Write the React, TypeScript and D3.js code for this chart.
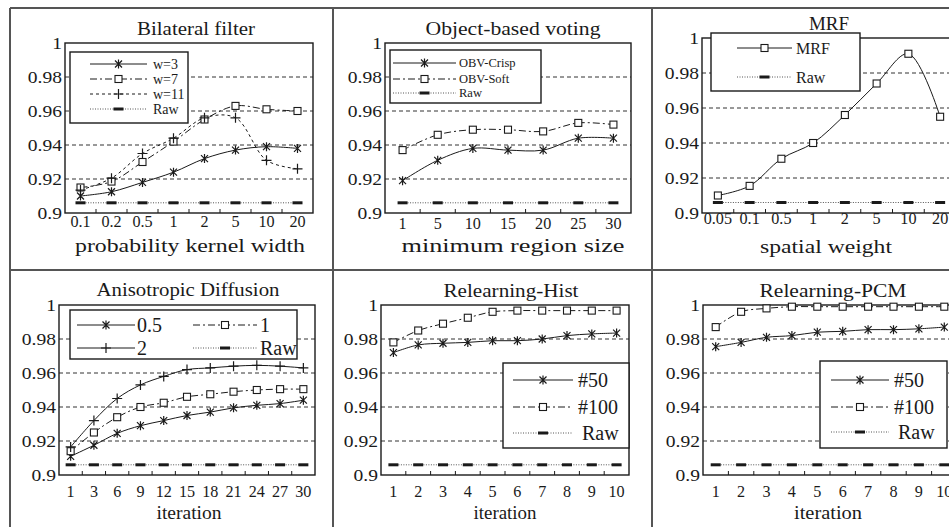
import React from "react";
import * as d3 from "d3";

// ---------------- data ----------------
const yTicks = [0.9, 0.92, 0.94, 0.96, 0.98, 1];
const yTickLabels = ["0.9", "0.92", "0.94", "0.96", "0.98", "1"];
const gridValues = [0.92, 0.94, 0.96, 0.98];

const bilateralCats = ["0.1", "0.2", "0.5", "1", "2", "5", "10", "20"];
const bilateralW3 = [0.91, 0.9125, 0.918, 0.924, 0.932, 0.937, 0.939, 0.938];
const bilateralW7 = [0.915, 0.9185, 0.93, 0.942, 0.955, 0.963, 0.961, 0.96];
const bilateralW11 = [0.9135, 0.9205, 0.935, 0.944, 0.956, 0.956, 0.931, 0.926];
const bilateralRaw = [0.906, 0.906, 0.906, 0.906, 0.906, 0.906, 0.906, 0.906];

const obvCats = ["1", "5", "10", "15", "20", "25", "30"];
const obvCrisp = [0.919, 0.931, 0.938, 0.937, 0.937, 0.944, 0.944];
const obvSoft = [0.937, 0.946, 0.949, 0.949, 0.948, 0.953, 0.952];
const obvRaw = [0.906, 0.906, 0.906, 0.906, 0.906, 0.906, 0.906];

const mrfCats = ["0.05", "0.1", "0.5", "1", "2", "5", "10", "20"];
const mrfValues = [0.91, 0.9155, 0.931, 0.94, 0.956, 0.974, 0.991, 0.955];
const mrfRaw = [0.906, 0.906, 0.906, 0.906, 0.906, 0.906, 0.906, 0.906];

const adCats = ["1", "3", "6", "9", "12", "15", "18", "21", "24", "27", "30"];
const ad05 = [0.911, 0.9175, 0.9245, 0.929, 0.932, 0.935, 0.937, 0.9395, 0.941, 0.942, 0.944];
const ad1 = [0.914, 0.925, 0.934, 0.94, 0.9425, 0.946, 0.9475, 0.949, 0.95, 0.9505, 0.9505];
const ad2 = [0.9165, 0.932, 0.945, 0.953, 0.958, 0.962, 0.963, 0.964, 0.9645, 0.964, 0.963];
const adRaw = [0.906, 0.906, 0.906, 0.906, 0.906, 0.906, 0.906, 0.906, 0.906, 0.906, 0.906];

const iterCats = ["1", "2", "3", "4", "5", "6", "7", "8", "9", "10"];
const hist50 = [0.972, 0.9765, 0.9775, 0.978, 0.979, 0.979, 0.98, 0.982, 0.983, 0.9835];
const hist100 = [0.978, 0.985, 0.989, 0.9925, 0.996, 0.9967, 0.9967, 0.9967, 0.9967, 0.9967];
const histRaw = [0.906, 0.906, 0.906, 0.906, 0.906, 0.906, 0.906, 0.906, 0.906, 0.906];

const pcm50 = [0.9755, 0.978, 0.981, 0.982, 0.984, 0.9845, 0.9855, 0.9855, 0.986, 0.987];
const pcm100 = [0.987, 0.996, 0.998, 0.999, 0.999, 0.999, 0.999, 0.999, 0.999, 0.999];
const pcmRaw = [0.906, 0.906, 0.906, 0.906, 0.906, 0.906, 0.906, 0.906, 0.906, 0.906];

// ---------------- styles ----------------
const FONT = "Liberation Serif, Times New Roman, serif";
const DASH: Record<string, string | undefined> = {
  solid: undefined,
  dashdot: "7,3,2,3",
  dashed: "3,3",
  dotted: "1,1.5",
};

type Series = { label: string; values: number[]; dash: string; marker: string };
type LegendEntry = { s: number; lx0: number; lx1: number; y: number; tx: number };

const panels = [
  {
    cats: bilateralCats,
    series: [
      { label: "w=3", values: bilateralW3, dash: "solid", marker: "star" },
      { label: "w=7", values: bilateralW7, dash: "dashdot", marker: "square" },
      { label: "w=11", values: bilateralW11, dash: "dashed", marker: "plus" },
      { label: "Raw", values: bilateralRaw, dash: "dotted", marker: "bar" },
    ] as Series[],
    plot: { x0: 65, x1: 313, y0: 43, y1: 213 },
    title: { text: "Bilateral filter", x: 196, y: 35, len: 118 },
    axis: { text: "probability kernel width", x: 190, y: 252, len: 230 },
    xLabelY: 227,
    legend: {
      box: { x: 70, y: 52, w: 118, h: 71 },
      size: 14,
      entries: [
        { s: 0, lx0: 90, lx1: 147, y: 64, tx: 153 },
        { s: 1, lx0: 90, lx1: 147, y: 79, tx: 153 },
        { s: 2, lx0: 90, lx1: 147, y: 94, tx: 153 },
        { s: 3, lx0: 90, lx1: 147, y: 109, tx: 153 },
      ] as LegendEntry[],
    },
  },
  {
    cats: obvCats,
    series: [
      { label: "OBV-Crisp", values: obvCrisp, dash: "solid", marker: "star" },
      { label: "OBV-Soft", values: obvSoft, dash: "dashdot", marker: "square" },
      { label: "Raw", values: obvRaw, dash: "dotted", marker: "bar" },
    ] as Series[],
    plot: { x0: 385, x1: 631, y0: 43, y1: 213 },
    title: { text: "Object-based voting", x: 513, y: 35, len: 175 },
    axis: { text: "minimum region size", x: 513, y: 252, len: 223 },
    xLabelY: 229,
    legend: {
      box: { x: 390, y: 50, w: 151, h: 53 },
      size: 12.5,
      entries: [
        { s: 0, lx0: 393, lx1: 456, y: 63, tx: 459 },
        { s: 1, lx0: 393, lx1: 456, y: 79, tx: 459 },
        { s: 2, lx0: 393, lx1: 456, y: 93, tx: 459 },
      ] as LegendEntry[],
    },
  },
  {
    cats: mrfCats,
    series: [
      { label: "MRF", values: mrfValues, dash: "solid", marker: "square" },
      { label: "Raw", values: mrfRaw, dash: "dotted", marker: "bar" },
    ] as Series[],
    plot: { x0: 702, x1: 956, y0: 38, y1: 213 },
    title: { text: "MRF", x: 829, y: 30, len: 40 },
    axis: { text: "spatial weight", x: 826, y: 253, len: 132 },
    xLabelY: 224,
    legend: {
      box: { x: 711, y: 33, w: 149, h: 58 },
      size: 16,
      entries: [
        { s: 0, lx0: 737, lx1: 792, y: 48, tx: 796 },
        { s: 1, lx0: 737, lx1: 792, y: 77, tx: 796 },
      ] as LegendEntry[],
    },
  },
  {
    cats: adCats,
    series: [
      { label: "0.5", values: ad05, dash: "solid", marker: "star" },
      { label: "1", values: ad1, dash: "dashdot", marker: "square" },
      { label: "2", values: ad2, dash: "solid", marker: "plus" },
      { label: "Raw", values: adRaw, dash: "dotted", marker: "bar" },
    ] as Series[],
    plot: { x0: 59, x1: 315, y0: 305, y1: 475 },
    title: { text: "Anisotropic Diffusion", x: 188, y: 296, len: 183 },
    axis: { text: "iteration", x: 189, y: 519, len: 65 },
    xLabelY: 497,
    legend: {
      box: { x: 70, y: 310, w: 227, h: 49 },
      size: 20,
      entries: [
        { s: 0, lx0: 77, lx1: 135, y: 325, tx: 137 },
        { s: 1, lx0: 193, lx1: 257, y: 325, tx: 260 },
        { s: 2, lx0: 77, lx1: 135, y: 348, tx: 137 },
        { s: 3, lx0: 193, lx1: 257, y: 348, tx: 260 },
      ] as LegendEntry[],
    },
  },
  {
    cats: iterCats,
    series: [
      { label: "#50", values: hist50, dash: "solid", marker: "star" },
      { label: "#100", values: hist100, dash: "dashdot", marker: "square" },
      { label: "Raw", values: histRaw, dash: "dotted", marker: "bar" },
    ] as Series[],
    plot: { x0: 381, x1: 629, y0: 305, y1: 475 },
    title: { text: "Relearning-Hist", x: 511, y: 297, len: 135 },
    axis: { text: "iteration", x: 505, y: 519, len: 63 },
    xLabelY: 497,
    legend: {
      box: { x: 503, y: 363, w: 126, h: 85 },
      size: 20,
      entries: [
        { s: 0, lx0: 513, lx1: 573, y: 380, tx: 578 },
        { s: 1, lx0: 513, lx1: 573, y: 407, tx: 578 },
        { s: 2, lx0: 513, lx1: 573, y: 433, tx: 582 },
      ] as LegendEntry[],
    },
  },
  {
    cats: iterCats,
    series: [
      { label: "#50", values: pcm50, dash: "solid", marker: "star" },
      { label: "#100", values: pcm100, dash: "dashdot", marker: "square" },
      { label: "Raw", values: pcmRaw, dash: "dotted", marker: "bar" },
    ] as Series[],
    plot: { x0: 703, x1: 957, y0: 305, y1: 475 },
    title: { text: "Relearning-PCM", x: 833, y: 297, len: 147 },
    axis: { text: "iteration", x: 828, y: 519, len: 68 },
    xLabelY: 497,
    legend: {
      box: { x: 820, y: 361, w: 127, h: 87 },
      size: 20,
      entries: [
        { s: 0, lx0: 831, lx1: 889, y: 380, tx: 894 },
        { s: 1, lx0: 831, lx1: 889, y: 407, tx: 894 },
        { s: 2, lx0: 831, lx1: 889, y: 432, tx: 898 },
      ] as LegendEntry[],
    },
  },
];

const INK = "#1a1a1a";

function Marker({ type, x, y }: { type: string; x: number; y: number }) {
  if (type === "star") {
    return (
      <path
        d={`M${x - 3.5},${y - 3.5}L${x + 3.5},${y + 3.5}M${x - 3.5},${y + 3.5}L${x + 3.5},${y - 3.5}M${x},${y - 4.5}L${x},${y + 4.5}`}
        stroke={INK}
        strokeWidth={1.2}
        fill="none"
      />
    );
  }
  if (type === "square") {
    return <rect x={x - 3.5} y={y - 3.5} width={7} height={7} fill="#fff" stroke={INK} strokeWidth={1.1} />;
  }
  if (type === "plus") {
    return (
      <path d={`M${x - 5},${y}L${x + 5},${y}M${x},${y - 5}L${x},${y + 5}`} stroke={INK} strokeWidth={1.2} fill="none" />
    );
  }
  return <rect x={x - 5} y={y - 1.5} width={10} height={3} fill={INK} />;
}

function Panel({ p }: { p: (typeof panels)[number] }) {
  const { x0, x1, y0, y1 } = p.plot;
  const y = d3.scaleLinear().domain([0.9, 1]).range([y1, y0]);
  const x = d3.scaleBand<string>().domain(p.cats).range([x0, x1]).padding(0);
  const bw = x.bandwidth();
  const cx = (c: string) => (x(c) as number) + bw / 2;

  const smooth = d3
    .line<[number, number]>()
    .x((d) => d[0])
    .y((d) => d[1])
    .curve(d3.curveCatmullRom.alpha(0.5));
  const straight = d3
    .line<[number, number]>()
    .x((d) => d[0])
    .y((d) => d[1]);

  return (
    <g>
      {gridValues.map((g) => (
        <line key={g} x1={x0} x2={x1} y1={y(g)} y2={y(g)} stroke="#333" strokeWidth={1} strokeDasharray="4,3" />
      ))}
      <rect x={x0} y={y0} width={x1 - x0} height={y1 - y0} fill="none" stroke={INK} strokeWidth={1.4} />
      {p.cats.slice(1).map((c) => (
        <line key={c} x1={x(c)} x2={x(c)} y1={y1} y2={y1 - 4} stroke={INK} strokeWidth={1} />
      ))}
      {yTicks.map((t, i) => (
        <text
          key={t}
          transform={`translate(${x0 - 3},${y(t)}) scale(1.15,1)`}
          dy="0.35em"
          textAnchor="end"
          style={{ fontFamily: FONT }}
          fontSize={17}
          fill={INK}
        >
          {yTickLabels[i]}
        </text>
      ))}
      {p.cats.map((c) => (
        <text
          key={c}
          transform={`translate(${cx(c)},${p.xLabelY}) scale(0.95,1)`}
          textAnchor="middle"
          style={{ fontFamily: FONT }}
          fontSize={17}
          fill={INK}
        >
          {c}
        </text>
      ))}
      <text
        x={p.title.x}
        y={p.title.y}
        textAnchor="middle"
        style={{ fontFamily: FONT }}
        fontSize={18}
        textLength={p.title.len}
        lengthAdjust="spacingAndGlyphs"
        fill={INK}
      >
        {p.title.text}
      </text>
      <text
        x={p.axis.x}
        y={p.axis.y}
        textAnchor="middle"
        style={{ fontFamily: FONT }}
        fontSize={19.5}
        textLength={p.axis.len}
        lengthAdjust="spacingAndGlyphs"
        fill={INK}
      >
        {p.axis.text}
      </text>
      {p.series.map((s) => {
        const pts = p.cats.map((c, i) => [cx(c), y(s.values[i])] as [number, number]);
        const gen = s.dash === "dotted" ? straight : smooth;
        return (
          <path
            key={s.label + "-line"}
            d={gen(pts) || ""}
            fill="none"
            stroke={s.dash === "dotted" ? "#555" : INK}
            strokeWidth={1}
            strokeDasharray={DASH[s.dash]}
          />
        );
      })}
      {p.series.map((s) =>
        p.cats.map((c, i) => <Marker key={s.label + c} type={s.marker} x={cx(c)} y={y(s.values[i])} />)
      )}
      <rect
        x={p.legend.box.x}
        y={p.legend.box.y}
        width={p.legend.box.w}
        height={p.legend.box.h}
        fill="#fff"
        stroke={INK}
        strokeWidth={1.4}
      />
      {p.legend.entries.map((e) => {
        const s = p.series[e.s];
        return (
          <g key={"lg" + s.label}>
            <line
              x1={e.lx0}
              x2={e.lx1}
              y1={e.y}
              y2={e.y}
              stroke={s.dash === "dotted" ? "#555" : INK}
              strokeWidth={1}
              strokeDasharray={DASH[s.dash]}
            />
            <Marker type={s.marker} x={(e.lx0 + e.lx1) / 2} y={e.y} />
            <text x={e.tx} y={e.y} dy="0.35em" style={{ fontFamily: FONT }} fontSize={p.legend.size} fill={INK}>
              {s.label}
            </text>
          </g>
        );
      })}
    </g>
  );
}

export default function App() {
  const W = 949;
  const H = 527;
  return (
    <svg
      width={W}
      height={H}
      viewBox={`0 0 ${W} ${H}`}
      style={{ position: "absolute", left: 0, top: 0, background: "#fff" }}
    >
      <rect x={0} y={0} width={W} height={H} fill="#fff" />
      <g stroke="#555" strokeWidth={2} fill="none">
        <line x1={10} x2={W} y1={8} y2={8} />
        <line x1={10} x2={10} y1={8} y2={H} />
        <line x1={333} x2={333} y1={8} y2={H} />
        <line x1={652} x2={652} y1={8} y2={H} />
        <line x1={10} x2={W} y1={270} y2={270} />
      </g>
      {panels.map((p, i) => (
        <Panel key={i} p={p} />
      ))}
    </svg>
  );
}
